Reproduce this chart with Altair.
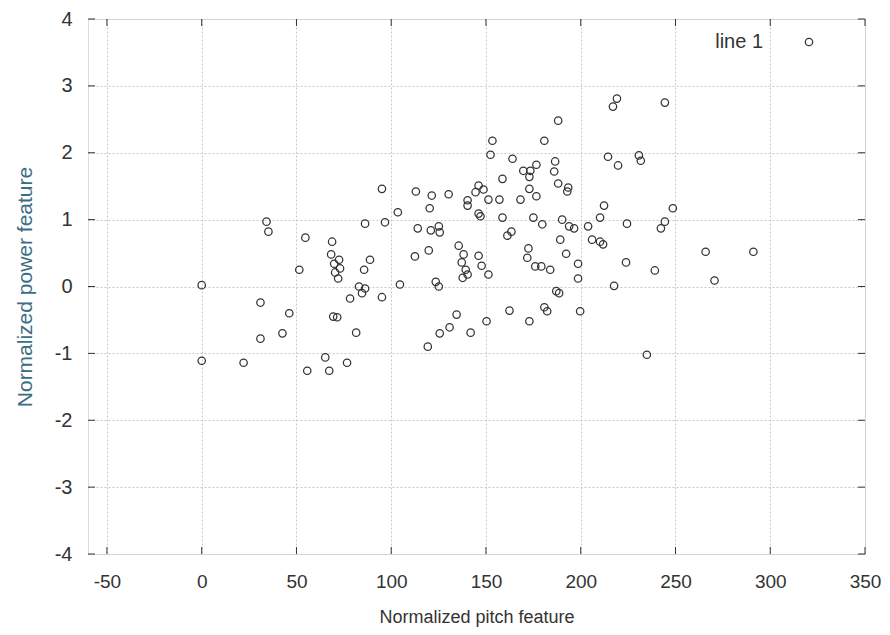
import altair as alt
import pandas as pd

# ---- data ----
pitch = [0.0, 0.0, 22.1, 31.0, 31.0, 34.2, 35.2, 42.6, 46.2, 51.5,
         54.7, 55.7, 65.2, 67.3, 68.8, 68.3, 72.5, 69.9, 73.0, 70.4,
         72.0, 69.4, 71.5, 76.7, 78.3, 81.5, 83.0, 86.2, 84.6, 85.7,
         88.8, 86.2, 95.1, 95.1, 96.7, 103.5, 104.6, 112.5, 113.0, 114.0,
         119.3, 119.8, 120.3, 120.9, 121.4, 123.5, 125.1, 125.1, 125.6, 125.6,
         130.3, 130.8, 134.5, 135.6, 138.2, 137.2, 139.3, 140.3, 137.7, 140.3,
         140.3, 141.9, 144.5, 146.1, 148.7, 146.1, 147.1, 146.1, 147.7, 151.3,
         150.3, 151.3, 152.4, 153.4, 157.1, 158.7, 158.7, 161.3, 163.4, 162.4,
         164.0, 168.2, 169.7, 173.4, 172.9, 172.9, 172.4, 171.8, 172.9, 175.0,
         176.0, 179.2, 176.6, 176.6, 179.7, 180.8, 180.8, 182.3, 183.9, 186.5,
         186.0, 188.1, 188.1, 190.2, 189.2, 187.1, 188.6, 192.3, 193.4, 192.9,
         193.9, 196.5, 198.6, 198.6, 199.7, 203.9, 206.0, 210.2, 211.8, 210.2,
         212.3, 214.4, 217.0, 219.1, 219.7, 217.6, 223.9, 224.4, 230.7, 231.7,
         234.9, 239.1, 242.3, 244.4, 244.4, 248.6, 265.9, 270.6, 291.1]
power = [0.02, -1.11, -1.14, -0.24, -0.78, 0.97, 0.82, -0.70, -0.40, 0.25,
         0.73, -1.26, -1.06, -1.26, 0.67, 0.48, 0.40, 0.34, 0.27, 0.21,
         0.12, -0.45, -0.46, -1.14, -0.18, -0.69, 0.00, -0.03, -0.10, 0.25,
         0.40, 0.94, 1.46, -0.16, 0.96, 1.11, 0.03, 0.45, 1.42, 0.87,
         -0.90, 0.54, 1.17, 0.84, 1.36, 0.07, 0.00, 0.90, 0.81, -0.70,
         1.38, -0.61, -0.42, 0.61, 0.48, 0.36, 0.25, 0.18, 0.13, 1.29,
         1.21, -0.69, 1.41, 1.51, 1.45, 1.09, 1.05, 0.46, 0.31, 0.18,
         -0.52, 1.30, 1.97, 2.18, 1.30, 1.61, 1.03, 0.76, 0.82, -0.36,
         1.91, 1.30, 1.73, 1.73, 1.64, 1.46, 0.57, 0.43, -0.52, 1.03,
         0.30, 0.30, 1.82, 1.35, 0.93, 2.18, -0.31, -0.37, 0.25, 1.87,
         1.72, 2.48, 1.54, 1.00, 0.70, -0.07, -0.10, 0.49, 1.48, 1.42,
         0.90, 0.87, 0.34, 0.12, -0.37, 0.90, 0.70, 0.67, 0.63, 1.03,
         1.21, 1.94, 2.69, 2.81, 1.81, 0.01, 0.36, 0.94, 1.96, 1.88,
         -1.02, 0.24, 0.87, 0.97, 2.75, 1.17, 0.52, 0.09, 0.52]
series_name = "line 1"
x_ticks = [-50, 0, 50, 100, 150, 200, 250, 300, 350]
y_ticks = [-4, -3, -2, -1, 0, 1, 2, 3, 4]

df = pd.DataFrame({"pitch": pitch, "power": power, "series": [series_name] * len(pitch)})
dfx = pd.DataFrame({"pitch": x_ticks})
dfy = pd.DataFrame({"power": y_ticks})

W, H = 777, 535
FONT = "Liberation Sans"
TXT = "#333333"

xs = alt.Scale(domain=[-60, 350], nice=False, zero=False)
ys = alt.Scale(domain=[-4, 4], nice=False, zero=False)

x_axis = alt.Axis(values=x_ticks, title="Normalized pitch feature", domain=False,
                  ticks=False, labelPadding=18, titlePadding=17, grid=True,
                  gridDash=[2, 2], gridColor="#c8c8c8", labelFontSize=19, titleFontSize=18,
                  labelColor=TXT, titleColor=TXT, titleFontWeight="normal",
                  labelFont=FONT, titleFont=FONT, labelFlush=False,
                  labelExpr="'' + datum.value")
y_axis = alt.Axis(values=y_ticks, title="Normalized power feature", domain=False,
                  ticks=False, labelPadding=16, titlePadding=19, grid=True,
                  gridDash=[2, 2], gridColor="#c8c8c8", labelFontSize=20, titleFontSize=21,
                  labelColor=TXT, titleColor="#3b6e85", titleFontWeight="normal",
                  labelFont=FONT, titleFont=FONT, labelFlush=False,
                  labelExpr="'' + datum.value")

points = alt.Chart(df).mark_point(shape="circle", filled=False, size=55, strokeWidth=1.25, opacity=1).encode(
    x=alt.X("pitch:Q", scale=xs, axis=x_axis),
    y=alt.Y("power:Q", scale=ys, axis=y_axis),
    color=alt.Color("series:N", scale=alt.Scale(range=["#333333"]),
                    legend=alt.Legend(title=None, orient="none", legendX=711, legendY=13,
                                      symbolType="circle", symbolSize=55, symbolStrokeWidth=1.25,
                                      labelFontSize=20, labelFont=FONT, labelColor=TXT,
                                      labelAlign="right", labelOffset={"expr": "-56"}, padding=0)),
)

tick_color = "#333333"
xb = alt.Chart(dfx).mark_rule(color=tick_color, strokeWidth=1).encode(
    x=alt.X("pitch:Q", scale=xs, axis=x_axis), y=alt.value(H), y2=alt.value(H - 7))
xt = alt.Chart(dfx).mark_rule(color=tick_color, strokeWidth=1).encode(
    x=alt.X("pitch:Q", scale=xs, axis=x_axis), y=alt.value(0), y2=alt.value(7))
yl = alt.Chart(dfy).mark_rule(color=tick_color, strokeWidth=1).encode(
    y=alt.Y("power:Q", scale=ys, axis=y_axis), x=alt.value(0), x2=alt.value(7))
yr = alt.Chart(dfy).mark_rule(color=tick_color, strokeWidth=1).encode(
    y=alt.Y("power:Q", scale=ys, axis=y_axis), x=alt.value(W), x2=alt.value(W - 7))

chart = alt.layer(points, xb, xt, yl, yr).properties(
    width=W, height=H,
    autosize=alt.AutoSizeParams(type="none"),
    padding={"left": 80, "top": 11, "right": 17, "bottom": 79},
).configure_view(stroke="#222222", strokeWidth=1.2).configure(background="white")

chart.save("out.html", embed_options={"renderer": "svg", "actions": False})
